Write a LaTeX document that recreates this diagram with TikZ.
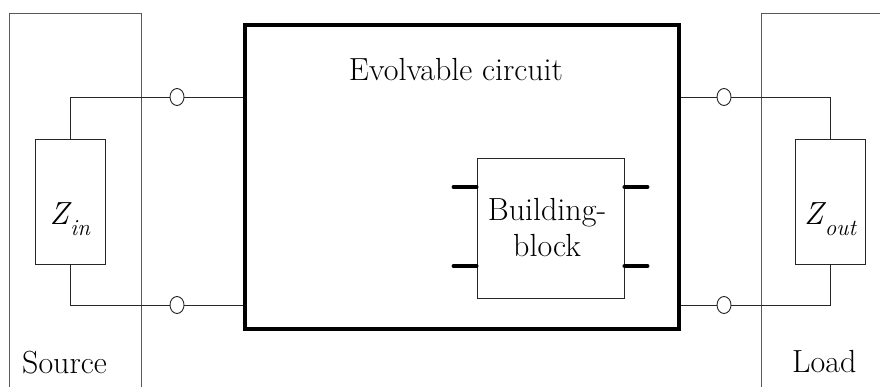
\documentclass[tikz,border=0pt]{standalone}
\usetikzlibrary{shapes.geometric,calc}
\newcommand{\impname}[2]{\textit{#1}\kern-0.04em\raisebox{-0.32em}{\fontsize{23}{23}\selectfont\textit{#2}}}
\begin{document}
\begin{tikzpicture}[x=1pt,y=-1pt,
  txt/.style={font=\fontsize{32}{36}\selectfont, inner sep=0pt},
  wire/.style={draw=black!85, line width=0.9pt},
  frame/.style={draw=black!65, line width=0.9pt},
  imp/.style={draw=black!85, line width=0.9pt, minimum width=70pt, minimum height=125pt, inner sep=0pt},
  term/.style={ellipse, draw=black!85, fill=white, line width=0.9pt, minimum width=14pt, minimum height=17pt, inner sep=0pt},
  stub/.style={line width=4pt, line cap=round}]
\useasboundingbox (0,0) rectangle (880,387);
% source and load frames
\coordinate (sbl) at (9,390);
\coordinate (stl) at (9,13);
\coordinate (str) at (141,13);
\coordinate (sbr) at (141,390);
\draw[frame] (sbl) -- (stl) -- (str) -- (sbr);
\coordinate (ltl) at (761,13);
\coordinate (lbl) at (761,390);
\coordinate (ltr) at (885,13);
\draw[frame] (lbl) -- (ltl) -- (ltr);
% evolvable circuit
\node[draw, line width=4.5pt, minimum width=434pt, minimum height=304pt, inner sep=0pt] (ev) at (462,177) {};
\node[txt, anchor=base] (evt) at (456,81) {Evolvable circuit};
% impedances
\node[imp] (zin) at (70,201.5) {};
\node[txt, anchor=base] (zint) at (70,225) {\impname{Z}{in}};
\node[imp] (zout) at (830.5,201.5) {};
\node[txt, anchor=base] (zoutt) at (830.5,225) {\impname{Z}{out}};
% terminals
\node[term] (c1) at (177,97) {};
\node[term] (c2) at (177,305) {};
\node[term] (c3) at (724,97) {};
\node[term] (c4) at (724,305) {};
% wires left
\draw[wire] (zin.north) |- (c1.west);
\draw[wire] (zin.south) |- (c2.west);
\draw[wire] (c1.east) -- (ev.west |- c1);
\draw[wire] (c2.east) -- (ev.west |- c2);
% wires right
\draw[wire] (ev.east |- c3) -- (c3.west);
\draw[wire] (ev.east |- c4) -- (c4.west);
\draw[wire] (c3.east) -| (zout.north);
\draw[wire] (c4.east) -| (zout.south);
% building block
\node[draw=black!85, line width=0.9pt, minimum width=147pt, minimum height=140pt, inner sep=0pt] (bb) at (550.5,228) {};
\node[txt, align=center] (bbt) at (547,228) {Building-\\block};
\coordinate (bl1) at ($(bb.west)+(0,-41)$);
\coordinate (bl2) at ($(bb.west)+(0,38)$);
\coordinate (br1) at ($(bb.east)+(0,-41)$);
\coordinate (br2) at ($(bb.east)+(0,38)$);
\draw[stub] (bl1) -- ++(-23,0);
\draw[stub] (bl2) -- ++(-23,0);
\draw[stub] (br1) -- ++(23,0);
\draw[stub] (br2) -- ++(23,0);
% labels
\node[txt, anchor=base west] (src) at (22,373) {Source};
\node[txt, anchor=base west] (ld) at (792,372) {Load};
\end{tikzpicture}
\end{document}
